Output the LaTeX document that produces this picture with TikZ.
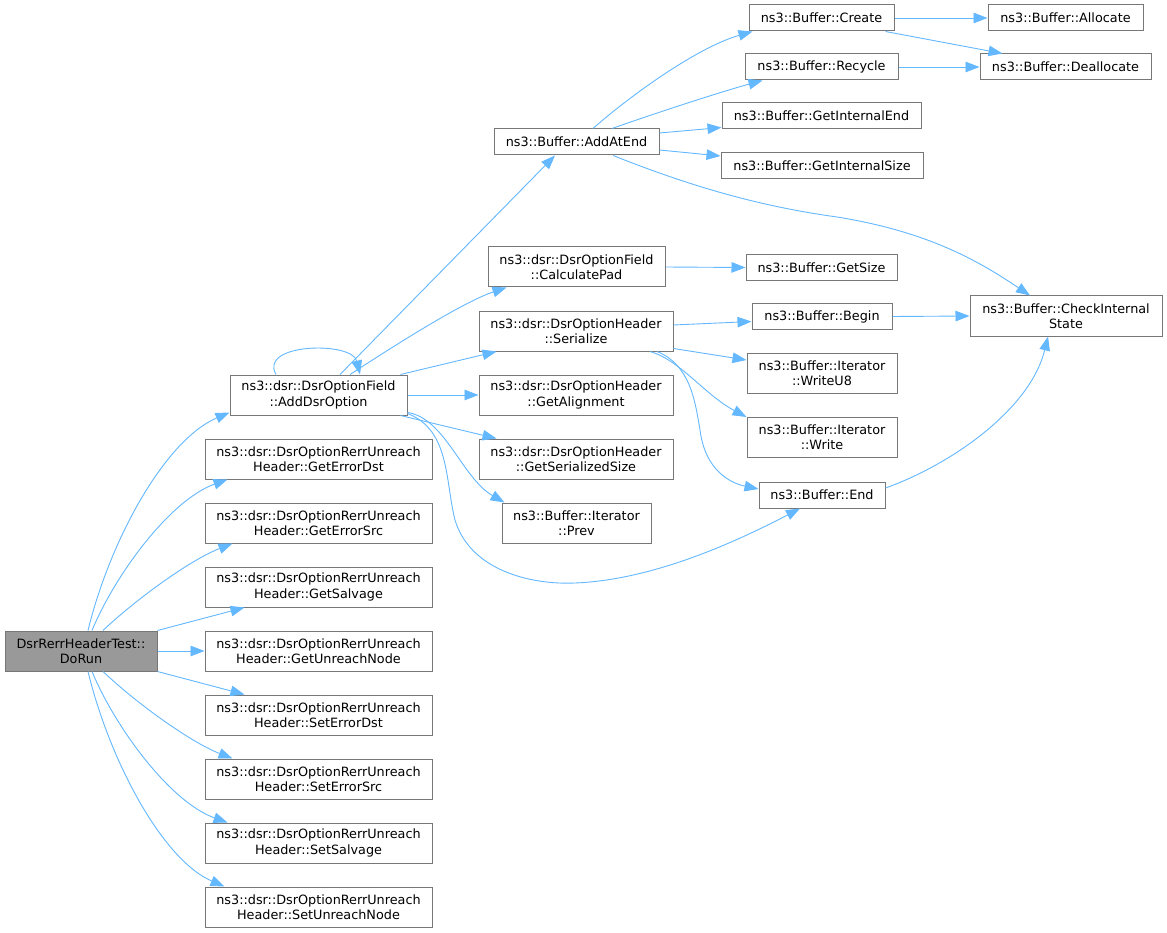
\documentclass[tikz,border=0pt]{standalone}
\usepackage{fontspec}
\setmainfont{DejaVu Sans}
\usetikzlibrary{arrows.meta,calc}
\definecolor{nodegray}{HTML}{777777}
\definecolor{rootfill}{HTML}{999999}
\definecolor{edgeblue}{HTML}{63B8FF}
\begin{document}
\begin{tikzpicture}[x=1pt,y=-1pt,
  fn/.style={draw=nodegray, fill=white, line width=1pt, inner sep=0pt, align=center,
    font=\fontsize{12.8}{15.3}\selectfont, text=black},
  tall/.style={fn, minimum height=40pt},
  short/.style={fn, minimum height=26pt},
  rootnode/.style={tall, fill=rootfill},
  ed/.style={draw=edgeblue, line width=0.9pt, -{Triangle[length=14pt,width=10.5pt]}}
]
\fill[white] (0,0) rectangle (1167,933);
\useasboundingbox (0,0) rectangle (1167,933);

% column 0
\node[rootnode, minimum width=152pt] (root) at (81,651) {DsrRerrHeaderTest::\\DoRun};
% column 1
\node[tall, minimum width=177pt] (ado) at (318.5,395) {ns3::dsr::DsrOptionField\\::AddDsrOption};
\node[tall, minimum width=227pt] (ged) at (318.5,459) {ns3::dsr::DsrOptionRerrUnreach\\Header::GetErrorDst};
\node[tall, minimum width=227pt] (ges) at (318.5,523) {ns3::dsr::DsrOptionRerrUnreach\\Header::GetErrorSrc};
\node[tall, minimum width=227pt] (gsa) at (318.5,587) {ns3::dsr::DsrOptionRerrUnreach\\Header::GetSalvage};
\node[tall, minimum width=227pt] (gun) at (318.5,651) {ns3::dsr::DsrOptionRerrUnreach\\Header::GetUnreachNode};
\node[tall, minimum width=227pt] (sed) at (318.5,715) {ns3::dsr::DsrOptionRerrUnreach\\Header::SetErrorDst};
\node[tall, minimum width=227pt] (ses) at (318.5,779) {ns3::dsr::DsrOptionRerrUnreach\\Header::SetErrorSrc};
\node[tall, minimum width=227pt] (ssa) at (318.5,843) {ns3::dsr::DsrOptionRerrUnreach\\Header::SetSalvage};
\node[tall, minimum width=227pt] (sun) at (318.5,907) {ns3::dsr::DsrOptionRerrUnreach\\Header::SetUnreachNode};
% column 2
\node[short, minimum width=165pt] (aae) at (576.5,142) {ns3::Buffer::AddAtEnd};
\node[tall, minimum width=177pt] (cpad) at (576.5,267) {ns3::dsr::DsrOptionField\\::CalculatePad};
\node[tall, minimum width=194pt] (ser) at (576,331) {ns3::dsr::DsrOptionHeader\\::Serialize};
\node[tall, minimum width=194pt] (gal) at (576,395) {ns3::dsr::DsrOptionHeader\\::GetAlignment};
\node[tall, minimum width=194pt] (gss) at (576,459) {ns3::dsr::DsrOptionHeader\\::GetSerializedSize};
\node[tall, minimum width=149pt] (prev) at (576.5,523) {ns3::Buffer::Iterator\\::Prev};
% column 3
\node[short, minimum width=145pt] (create) at (821.5,18) {ns3::Buffer::Create};
\node[short, minimum width=153pt] (recycle) at (821.5,67) {ns3::Buffer::Recycle};
\node[short, minimum width=199pt] (gie) at (821.5,116) {ns3::Buffer::GetInternalEnd};
\node[short, minimum width=202pt] (gis) at (822,165.5) {ns3::Buffer::GetInternalSize};
\node[short, minimum width=151pt] (gsize) at (821.5,267.5) {ns3::Buffer::GetSize};
\node[short, minimum width=140pt] (begin) at (822,316.5) {ns3::Buffer::Begin};
\node[tall, minimum width=150pt] (wu8) at (822,373.5) {ns3::Buffer::Iterator\\::WriteU8};
\node[tall, minimum width=150pt] (write) at (822,437.5) {ns3::Buffer::Iterator\\::Write};
\node[short, minimum width=126pt] (bend) at (822,495) {ns3::Buffer::End};
% column 4
\node[short, minimum width=155pt] (alloc) at (1065.5,18) {ns3::Buffer::Allocate};
\node[short, minimum width=171pt] (dealloc) at (1065.5,67) {ns3::Buffer::Deallocate};
\node[tall, minimum width=192pt] (cis) at (1066,316) {ns3::Buffer::CheckInternal\\State};

% edges from DoRun
\draw[ed] ($(root.north)+(7,0)$) .. controls (110,540) and (165,440) .. ($(ado.south west)+(0,-3)$);
\draw[ed] ($(root.north)+(11,0)$) .. controls (115,575) and (170,500) .. ($(ged.south west)+(23,0)$);
\draw[ed] ($(root.north)+(22,0)$) .. controls (135,600) and (190,560) .. ($(ges.south west)+(28,0)$);
\draw[ed] (root.north east) -- ($(gsa.south west)+(40,0)$);
\draw[ed] (root.east) -- (gun.west);
\draw[ed] (root.south east) -- ($(sed.north west)+(40,0)$);
\draw[ed] ($(root.south)+(22,0)$) .. controls (135,702) and (190,742) .. ($(ses.north west)+(28,0)$);
\draw[ed] ($(root.south)+(11,0)$) .. controls (115,727) and (170,802) .. ($(ssa.north west)+(23,0)$);
\draw[ed] ($(root.south)+(7,0)$) .. controls (110,762) and (163,860) .. ($(sun.north west)+(20,0)$);

% edges from AddDsrOption
\draw[ed] ($(ado.north)+(-42.5,0)$) .. controls (258,343) and (352,341) .. ($(ado.north)+(41.5,0)$);
\draw[ed] ($(ado.north)+(21.5,0)$) -- ($(aae.south)+(-21.5,0)$);
\draw[ed] ($(ado.north)+(31.5,0)$) .. controls (380,355) and (460,303) .. ($(cpad.south west)+(19,0)$);
\draw[ed] ($(ado.north east)+(-7,0)$) -- ($(ser.south west)+(18,0)$);
\draw[ed] (ado.east) -- (gal.west);
\draw[ed] ($(ado.south east)+(-7,0)$) -- ($(gss.north west)+(18,0)$);
\draw[ed] ($(ado.south east)+(0,-3)$) .. controls (445,418) and (462,478) .. ($(prev.north west)+(3,0)$);
\draw[ed] ($(ado.south east)+(0,-2)$) .. controls (450,430) and (445,480) .. (455,520)
  .. controls (470,570) and (530,585) .. (575,583)
  .. controls (650,580) and (730,545) .. ($(bend.south)+(-22,0)$);

% edges from AddAtEnd
\draw[ed] ($(aae.north)+(16.5,0)$) .. controls (625,100) and (695,48) .. ($(create.south west)+(4,0)$);
\draw[ed] ($(aae.north)+(35.5,0)$) .. controls (650,115) and (720,92) .. ($(recycle.south west)+(18,0)$);
\draw[ed] ($(aae.east)+(0,-9)$) -- ($(gie.south west)+(0,-2)$);
\draw[ed] ($(aae.east)+(0,8)$) -- ($(gis.north west)+(0,4)$);
\draw[ed] ($(aae.south)+(36.5,0)$) .. controls (680,182) and (750,205) .. (837,217)
  .. controls (930,232) and (980,262) .. ($(cis.north)+(-36,0)$);

% other edges
\draw[ed] (cpad.east) -- (gsize.west);
\draw[ed] ($(ser.east)+(0,-6)$) -- ($(begin.west)+(0,5)$);
\draw[ed] ($(ser.south east)+(0,-3)$) -- ($(wu8.north west)+(0,7)$);
\draw[ed] ($(ser.south)+(74,0)$) .. controls (680,360) and (705,395) .. (write.north west);
\draw[ed] ($(ser.south)+(81,0)$) .. controls (690,365) and (695,400) .. (700,430)
  .. controls (705,470) and (730,483) .. ($(bend.west)+(0,-6)$);
\draw[ed] (begin.east) -- (cis.west);
\draw[ed] ($(bend.east)+(0,-7)$) .. controls (950,465) and (1030,410) .. ($(cis.south)+(-18,0)$);
\draw[ed] (create.east) -- (alloc.west);
\draw[ed] ($(create.south east)+(-9,0)$) -- ($(dealloc.north west)+(23,0)$);
\draw[ed] (recycle.east) -- (dealloc.west);
\end{tikzpicture}
\end{document}
